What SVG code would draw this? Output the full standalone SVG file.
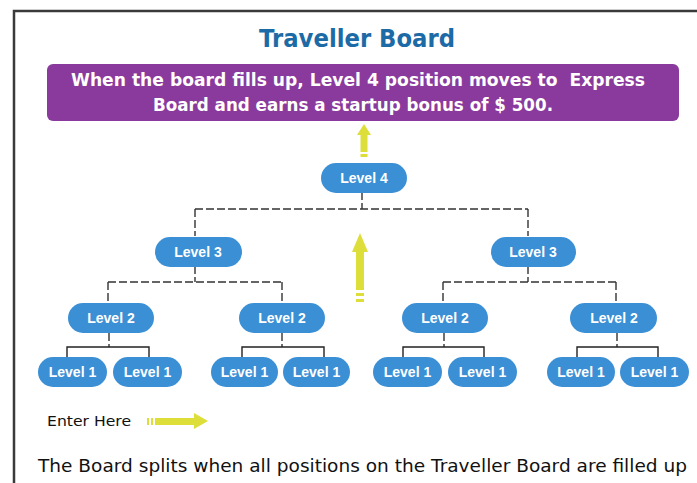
<svg xmlns="http://www.w3.org/2000/svg" width="697" height="483" viewBox="0 0 697 483">
  <defs>
    <style>
      .node rect { fill: #3a8fd5; }
      .node text { fill: #ffffff; font-family: "Liberation Sans", Arial, sans-serif; font-weight: bold; font-size: 14px; text-anchor: middle; }
      .dash { fill: none; stroke: #333; stroke-width: 1.4; stroke-dasharray: 8 3; }
      .solid { fill: none; stroke: #222; stroke-width: 1.4; }
      .yarrow { fill: #dede3a; }
      .cond { font-family: "DejaVu Sans", sans-serif; }
    </style>
  </defs>

  <rect x="0" y="0" width="697" height="483" fill="#ffffff"/>
  <!-- frame -->
  <path d="M14 483 V11 H697" fill="none" stroke="#3a3a3a" stroke-width="2.5"/>

  <!-- title -->
  <text class="cond" x="357" y="47" text-anchor="middle" font-weight="bold" font-size="24" fill="#1c6aa6" textLength="196" lengthAdjust="spacingAndGlyphs">Traveller Board</text>

  <!-- banner -->
  <g id="banner">
    <rect x="47" y="64" width="632" height="57" rx="6" fill="#8a3a9c"/>
    <text class="cond" x="358" y="86" text-anchor="middle" font-weight="bold" font-size="18.5" fill="#ffffff" textLength="574" lengthAdjust="spacingAndGlyphs" xml:space="preserve">When the board fills up, Level 4 position moves to  Express</text>
    <text class="cond" x="353" y="111" text-anchor="middle" font-weight="bold" font-size="18.5" fill="#ffffff" textLength="400" lengthAdjust="spacingAndGlyphs">Board and earns a startup bonus of $ 500.</text>
  </g>

  <!-- yellow arrows -->
  <g id="arrows">
    <path class="yarrow" d="M364 124 L371 135 L367.5 135 L367.5 152 L360.5 152 L360.5 135 L357 135 Z"/>
    <rect class="yarrow" x="360.5" y="154" width="7" height="3"/>
    <path class="yarrow" d="M360 233 L368 252 L364 252 L364 290 L356 290 L356 252 L352 252 Z"/>
    <rect class="yarrow" x="356" y="293" width="8" height="3"/>
    <rect class="yarrow" x="356" y="299" width="8" height="3"/>
    <path class="yarrow" d="M208 421 L194 413 L194 418 L155 418 L155 425 L194 425 L194 429 Z"/>
    <rect class="yarrow" x="147" y="418" width="2" height="7"/>
    <rect class="yarrow" x="151" y="418" width="2" height="7"/>
  </g>

  <!-- connectors -->
  <g id="connectors">
    <path class="dash" d="M362 192 V209 M195 209 H528 M195 209 V236 M528 209 V236"/>
    <path class="dash" d="M195 266 V282 M108 282 H282 M108 282 V303 M282 282 V303"/>
    <path class="dash" d="M528 266 V282 M443 282 H616 M443 282 V303 M616 282 V303"/>
    <path class="dash" d="M109 333 V347 M282 333 V347 M444 333 V347 M617 333 V347" stroke-dasharray="5 2"/>
    <path class="solid" d="M67 357 V347 H149 V357 M242 357 V347 H324 V357 M403 357 V347 H484 V357 M577 357 V347 H658 V357"/>
  </g>

  <!-- nodes -->
  <g id="level4" class="node"><rect x="321" y="163" width="86" height="30" rx="15"/><text x="364" y="183">Level 4</text></g>
  <g id="level3-left" class="node"><rect x="155" y="237" width="87" height="30" rx="15"/><text x="198" y="257">Level 3</text></g>
  <g id="level3-right" class="node"><rect x="491" y="237" width="85" height="30" rx="15"/><text x="533" y="257">Level 3</text></g>

  <g id="level2-a" class="node"><rect x="68" y="303" width="86" height="30" rx="15"/><text x="111" y="323">Level 2</text></g>
  <g id="level2-b" class="node"><rect x="239" y="303" width="86" height="30" rx="15"/><text x="282" y="323">Level 2</text></g>
  <g id="level2-c" class="node"><rect x="402" y="303" width="86" height="30" rx="15"/><text x="445" y="323">Level 2</text></g>
  <g id="level2-d" class="node"><rect x="570" y="303" width="87" height="30" rx="15"/><text x="614" y="323">Level 2</text></g>

  <g id="level1-a" class="node"><rect x="38" y="357" width="69" height="30" rx="15"/><text x="72.5" y="377">Level 1</text></g>
  <g id="level1-b" class="node"><rect x="113" y="357" width="69" height="30" rx="15"/><text x="147.5" y="377">Level 1</text></g>
  <g id="level1-c" class="node"><rect x="211" y="357" width="67" height="30" rx="15"/><text x="244.5" y="377">Level 1</text></g>
  <g id="level1-d" class="node"><rect x="283" y="357" width="67" height="30" rx="15"/><text x="316.5" y="377">Level 1</text></g>
  <g id="level1-e" class="node"><rect x="373" y="357" width="69" height="30" rx="15"/><text x="407.5" y="377">Level 1</text></g>
  <g id="level1-f" class="node"><rect x="448" y="357" width="69" height="30" rx="15"/><text x="482.5" y="377">Level 1</text></g>
  <g id="level1-g" class="node"><rect x="547" y="357" width="68" height="30" rx="15"/><text x="581" y="377">Level 1</text></g>
  <g id="level1-h" class="node"><rect x="620" y="357" width="69" height="30" rx="15"/><text x="654.5" y="377">Level 1</text></g>

  <!-- captions -->
  <text class="cond" x="47" y="426" font-size="14" fill="#111" textLength="84" lengthAdjust="spacingAndGlyphs">Enter Here</text>
  <text class="cond" x="38" y="472" font-size="18" fill="#111" textLength="649" lengthAdjust="spacingAndGlyphs">The Board splits when all positions on the Traveller Board are filled up</text>
</svg>
